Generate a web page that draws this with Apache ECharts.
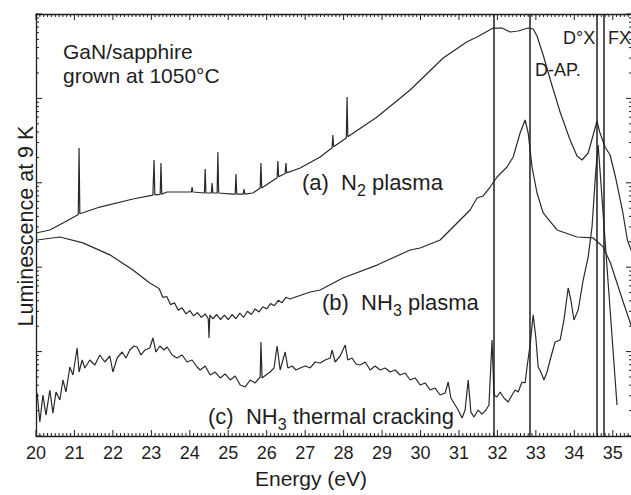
<!DOCTYPE html>
<html><head><meta charset="utf-8">
<script src="https://cdn.jsdelivr.net/npm/echarts@6/dist/echarts.min.js"></script>
<style>html,body{margin:0;padding:0;background:#fff}#c{width:631px;height:495px}</style>
</head><body><div id="c"></div>
<script>
// ---- data (energy in eV, luminescence in arbitrary units, log scale) ----
const aEnergy = [20.0,20.36,20.75,21.1,21.12,21.14,21.66,22.52,23.04,23.07,23.09,23.23,23.25,23.27,23.41,24.04,24.06,24.08,24.38,24.40,24.42,24.56,24.58,24.60,24.71,24.73,24.75,25.12,25.18,25.20,25.22,25.39,25.41,25.43,25.64,25.83,25.85,25.87,26.27,26.29,26.31,26.48,26.50,26.52,26.87,27.39,27.70,27.72,27.74,28.07,28.09,28.11,28.87,29.73,30.59,31.21,31.47,31.89,32.12,32.33,32.54,32.80,32.93,33.03,33.19,33.40,33.63,33.89,34.07,34.20,34.36,34.49,34.59,34.66,34.80,34.93,35.07,35.25,35.38,35.5];
const aLum = [254,276,343,420,2580,430,516,643,716,1860,720,730,1720,735,778,778,891,778,757,1460,757,757,995,757,757,2320,757,736,736,1270,736,736,845,736,757,867,1720,870,1150,1810,1180,1290,1720,1310,1496,2023,2600,3681,2680,3400,10400,3520,6026,12590,30130,47000,53400,68200,68200,61200,62900,68200,66400,54800,32700,15210,6900,3214,2080,1862,2254,3681,5395,4000,2655,2134,1172,476,210,150];

const bEnergy = [20.03,20.62,21.22,21.92,22.52,22.96,23.2,23.3,23.4,23.5,23.6,23.7,23.8,23.9,24.0,24.1,24.2,24.3,24.4,24.48,24.5,24.52,24.6,24.7,24.8,24.9,25.0,25.1,25.2,25.3,25.4,25.5,25.6,25.7,25.8,25.9,26.0,26.1,26.2,26.3,26.4,26.5,26.6,27.13,27.39,27.98,28.87,29.73,29.99,30.51,30.77,31.29,31.47,31.63,31.81,31.99,32.25,32.41,32.59,32.72,32.80,32.90,33.03,33.19,33.55,34.07,34.49,34.75,34.94,35.28,35.5];
const bLum = [210,228,194,140,92.7,65.0,56,44,45,36,38,31,33,28,30.5,26.5,29,25.5,28,24.5,14.5,27,24.5,27.5,24,27,24,27.5,24.5,28.5,25.5,30,27.5,32,29.5,34,32,37,35,40.5,38,44,42,50.8,53.7,74.5,106,160,169,210,276,476,661,698,891,1172,1538,2023,3890,5546,3890,1538,757,439,276,228,222,174,112,37.7,19];

const cEnergy = [20.03,20.10,20.18,20.26,20.36,20.44,20.52,20.62,20.70,20.78,20.88,20.96,21.07,21.12,21.20,21.27,21.40,21.53,21.66,21.79,21.92,22.00,22.11,22.24,22.34,22.44,22.55,22.63,22.73,22.83,22.96,23.04,23.12,23.22,23.33,23.41,23.54,23.67,23.80,23.93,24.06,24.19,24.27,24.40,24.53,24.66,24.79,24.92,25.05,25.18,25.31,25.44,25.57,25.70,25.83,25.85,25.88,25.98,26.09,26.19,26.27,26.35,26.48,26.55,26.66,26.76,26.87,27.00,27.13,27.26,27.39,27.52,27.65,27.70,27.78,27.91,28.04,28.11,28.22,28.32,28.43,28.56,28.69,28.82,28.95,29.08,29.21,29.34,29.47,29.60,29.73,29.86,29.99,30.12,30.25,30.38,30.51,30.64,30.72,30.79,30.90,30.98,31.08,31.16,31.24,31.31,31.39,31.50,31.60,31.70,31.78,31.86,31.91,31.99,32.07,32.17,32.28,32.38,32.46,32.54,32.64,32.72,32.77,32.85,32.93,33.00,33.06,33.13,33.21,33.29,33.37,33.50,33.63,33.73,33.84,33.91,33.99,34.10,34.23,34.36,34.46,34.56,34.62,35.11];
const cLum = [3.23,1.47,3.06,1.77,3.51,1.87,3.32,2.67,4.61,3.32,6.57,5.28,11.03,5.73,7.95,6.40,7.95,6.94,9.12,7.53,8.87,5.73,8.40,9.89,8.40,10.44,11.65,11.34,9.12,10.44,11.03,14.5,9.89,11.65,10.44,11.34,9.12,8.40,9.12,7.53,7.95,6.57,6.05,6.75,5.28,5.73,4.87,5.43,4.61,5.14,4.02,3.81,4.61,4.25,5.00,13.0,4.87,5.28,5.73,6.40,11.65,6.05,9.89,6.40,6.75,6.05,6.40,6.75,6.40,7.53,7.33,7.95,8.40,10.44,7.53,8.87,12.0,7.95,8.40,7.13,6.94,7.53,6.05,6.75,6.05,6.40,5.73,6.05,5.28,5.58,4.61,4.87,4.02,4.25,3.51,3.70,3.06,3.23,4.36,2.82,2.33,2.03,1.63,2.03,4.61,1.92,1.68,2.03,1.82,2.03,2.33,13.7,3.06,2.90,3.32,2.82,2.53,3.06,3.51,3.32,4.36,4.25,6.57,12.0,27.2,14.5,6.57,5.73,4.61,5.73,7.95,13.0,13.7,23.7,56.7,40.9,23.7,31.1,70.5,132,299,1419,2805,2.33];

// vertical reference lines (eV)
const markerEnergies = [31.91, 32.83, 34.59, 34.77];

// axis range and tick values
const xMin = 20, xMax = 35.5, yMin = 1, yMax = 100000;
const xMajorTicks = [20,21,22,23,24,25,26,27,28,29,30,31,32,33,34,35];
const xMinorTicks = [];
for (let i = 201; i <= 355; i++) if (i % 10 !== 0) xMinorTicks.push(i / 10);
const yMajorTicks = [1, 10, 100, 1000, 10000, 100000];
const yMinorTicks = [];
for (const dec of [1, 10, 100, 1000, 10000]) for (let m = 2; m <= 9; m++) yMinorTicks.push(m * dec);

// ---- chart ----
const FONT = '"Liberation Sans", Arial, Helvetica, sans-serif';
const INK = '#1e1e1e';
const zip = (xs, ys) => xs.map((x, i) => [x, ys[i]]);
const mctx = document.createElement('canvas').getContext('2d');
function textW(t, size) { mctx.font = size + 'px ' + FONT; return mctx.measureText(t).width; }

function xAx(pos, labels) {
  return {
    type: 'value', min: xMin, max: xMax, interval: 1, position: pos,
    axisLine: {show: true, onZero: false, lineStyle: {color: INK, width: 1.3}},
    axisTick: {show: false},
    axisLabel: {show: labels, fontSize: 18, color: INK, fontFamily: FONT, margin: 8, showMaxLabel: false, showMinLabel: true},
    splitLine: {show: false}
  };
}
function yAx(pos) {
  return {
    type: 'log', logBase: 10, min: yMin, max: yMax, position: pos,
    axisLine: {show: true, lineStyle: {color: INK, width: 1.3}},
    axisTick: {show: false},
    axisLabel: {show: false},
    splitLine: {show: false}
  };
}
function lineSeries(name, data) {
  return {
    name: name, type: 'line', data: data, showSymbol: false, symbol: 'none',
    xAxisIndex: 0, yAxisIndex: 0, silent: true,
    lineStyle: {color: '#2a2a2a', width: 1.2}
  };
}
function plainText(x, y, txt, size, align, rot) {
  return {
    type: 'text', x: x, y: y, rotation: rot || 0, silent: true,
    style: {text: txt, fontSize: size, fontFamily: FONT, fill: INK, align: align || 'left', verticalAlign: 'middle'}
  };
}
function subLabel(x, yc, tag, main, sub, post) {
  const M = 22, S = 16;
  const xMain = x + textW(tag + '  ', M);
  const xSub = xMain + textW(main, M);
  const xPost = xSub + textW(sub, S) + textW(' ', M);
  return [
    plainText(x, yc, tag, M),
    plainText(xMain, yc, main, M),
    plainText(xSub, yc + 8, sub, S),
    plainText(xPost, yc, post, M)
  ];
}

// inward frame ticks, positioned through the axes' own scales
const tickData = [];
xMajorTicks.forEach(v => tickData.push([v, yMin, 6, 0]));
xMinorTicks.forEach(v => tickData.push([v, yMin, 3, 0]));
yMajorTicks.forEach(v => tickData.push([xMin, v, 6, 1]));
yMinorTicks.forEach(v => tickData.push([xMin, v, 3, 1]));
const tickSeries = {
  type: 'custom', coordinateSystem: 'cartesian2d', xAxisIndex: 0, yAxisIndex: 0,
  silent: true, clip: false, z: 5, data: tickData,
  renderItem: function (params, api) {
    const xv = api.value(0), yv = api.value(1), len = api.value(2), o = api.value(3);
    const st = {stroke: INK, lineWidth: 1};
    if (o === 0) {
      const b = api.coord([xv, yMin]), t = api.coord([xv, yMax]);
      return {type: 'group', children: [
        {type: 'line', shape: {x1: b[0], y1: b[1], x2: b[0], y2: b[1] - len}, style: st},
        {type: 'line', shape: {x1: t[0], y1: t[1], x2: t[0], y2: t[1] + len}, style: st}
      ]};
    }
    const l = api.coord([xMin, yv]), r = api.coord([xMax, yv]);
    return {type: 'group', children: [
      {type: 'line', shape: {x1: l[0], y1: l[1], x2: l[0] + len, y2: l[1]}, style: st},
      {type: 'line', shape: {x1: r[0], y1: r[1], x2: r[0] - len, y2: r[1]}, style: st}
    ]};
  }
};

const chart = echarts.init(document.getElementById('c'), null, {renderer: 'svg'});
const seriesC = lineSeries('(c) NH3 thermal cracking', zip(cEnergy, cLum));
seriesC.markLine = {
  silent: true, symbol: ['none', 'none'], animation: false,
  label: {show: false},
  lineStyle: {type: 'solid', color: INK, width: 1.5},
  data: markerEnergies.map(e => ({xAxis: e}))
};
chart.setOption({
  animation: false,
  backgroundColor: '#fff',
  grid: {left: 36, right: -1, top: 14, bottom: 59, containLabel: false, outerBoundsMode: 'none'},
  xAxis: [xAx('bottom', true), xAx('top', false)],
  yAxis: [yAx('left'), yAx('right')],
  series: [
    lineSeries('(a) N2 plasma', zip(aEnergy, aLum)),
    lineSeries('(b) NH3 plasma', zip(bEnergy, bLum)),
    seriesC,
    tickSeries
  ],
  graphic: [
    plainText(63, 51, 'GaN/sapphire', 21),
    plainText(63, 75.5, 'grown at 1050°C', 21),
    plainText(563, 38, 'D°X', 18),
    plainText(608, 38, 'FX', 18),
    plainText(535, 70, 'D-AP.', 18),
    ...subLabel(302, 182.5, '(a)', 'N', '2', 'plasma'),
    ...subLabel(322, 302, '(b)', 'NH', '3', 'plasma'),
    ...subLabel(208, 416, '(c)', 'NH', '3', 'thermal cracking'),
    plainText(311, 478, 'Energy (eV)', 21, 'center'),
    plainText(26, 226, 'Luminescence at 9 K', 21.5, 'center', Math.PI / 2)
  ]
});
</script>
</body></html>
